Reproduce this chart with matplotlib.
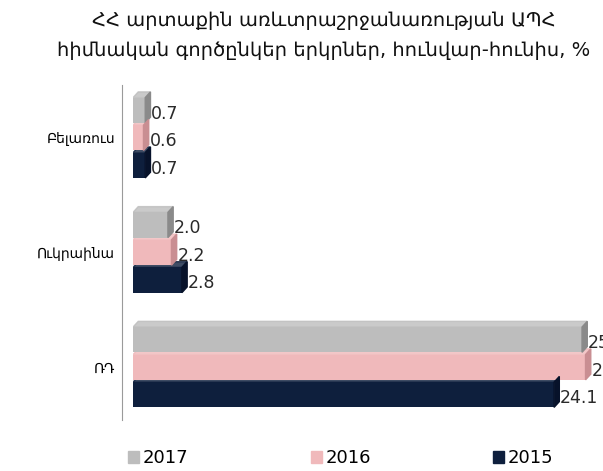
import matplotlib.pyplot as plt
import matplotlib.transforms as mtransforms
from matplotlib.patches import Polygon
from matplotlib.patches import Patch

# data
countries = ['ՌԴ', 'Ուկրաինա', 'Բելառուս']
years = ['2017', '2016', '2015']
v2017 = [25.7, 2.0, 0.7]
v2016 = [25.9, 2.2, 0.6]
v2015 = [24.1, 2.8, 0.7]
colors = {'2017': '#bdbdbd', '2016': '#f0b9bb', '2015': '#0e1f3d'}
side = {'2017': '#8a8a8a', '2016': '#c98e92', '2015': '#07122a'}

fig = plt.figure(figsize=(6.03, 4.71), dpi=100)
ax = fig.add_axes([133 / 603, 1 - 420 / 471, 1 - 133 / 603, 335 / 471])

series = {'2017': v2017, '2016': v2016, '2015': v2015}
offsets = {'2017': 0.24, '2016': 0.0, '2015': -0.24}
h = 0.22
dx, dy = 0.3, 0.05

for y in years:
    for i, v in enumerate(series[y]):
        yc = i + offsets[y]
        ax.barh(yc, v, height=h, color=colors[y], zorder=3)
        # fake 3d side face
        ax.add_patch(Polygon([(v, yc - h / 2), (v + dx, yc - h / 2 + dy),
                              (v + dx, yc + h / 2 + dy), (v, yc + h / 2)],
                             closed=True, color=side[y], zorder=3))
        ax.add_patch(Polygon([(0, yc + h / 2), (dx, yc + h / 2 + dy),
                              (v + dx, yc + h / 2 + dy), (v, yc + h / 2)],
                             closed=True, color=colors[y], alpha=0.8, zorder=2))
        ax.text(v + dx + 0.05, yc - 0.03, '%.1f' % v, va='center', ha='left',
                fontsize=12.5, color='#2a2a2a', clip_on=False)

ax.set_xlim(0, 26.9)
ax.set_ylim(-0.46, 2.46)
ax.set_yticks(range(len(countries)))
ax.set_yticklabels(countries, fontsize=10.5)
ax.tick_params(axis='y', length=0, pad=5)
# labels sit a little below the group centre in the original
shift = mtransforms.ScaledTranslation(0, -6 / 100, fig.dpi_scale_trans)
for lab in ax.get_yticklabels():
    lab.set_transform(lab.get_transform() + shift)
ax.set_xticks([])
for s in ['top', 'right', 'bottom']:
    ax.spines[s].set_visible(False)
ax.spines['left'].set_color('#9a9a9a')
ax.spines['left'].set_position(('outward', 8))

fig.text(0.537, 0.957, 'ՀՀ արտաքին առևտրաշրջանառության ԱՊՀ', ha='center',
         va='center', fontsize=14, color='#111111')
fig.text(0.537, 0.893, 'հիմնական գործընկեր երկրներ, հունվար-հունիս, %', ha='center',
         va='center', fontsize=14, color='#111111')

handles = [Patch(color=colors[y]) for y in years]
fig.legend(handles, years, loc='center', bbox_to_anchor=(0.565, 0.027), ncol=3,
           frameon=False, fontsize=13, handlelength=0.6, handleheight=0.6,
           handletextpad=0.2, columnspacing=6.8)

fig.savefig('out.png', dpi=100)
